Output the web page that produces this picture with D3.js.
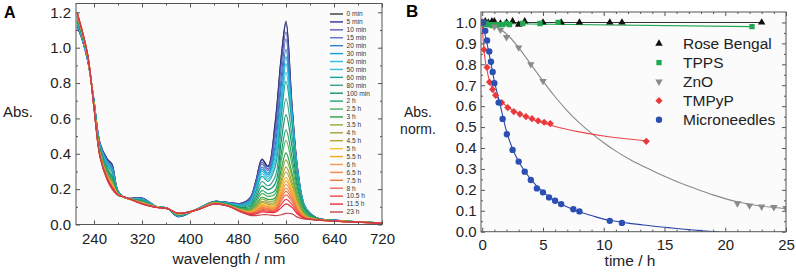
<!DOCTYPE html>
<html>
<head>
<meta charset="utf-8">
<script src="https://cdn.jsdelivr.net/npm/d3@7"></script>
<style>
  body { margin: 0; background: #fff; }
  svg { font-family: "Liberation Sans", Arial, sans-serif; }
  .axis text { font-size: 15px; fill: #222; }
  .axis line { stroke: #555; }
  .axis path { display: none; }
</style>
</head>
<body>
<div id="canvas"></div>
<script>
// ---------- DATA : panel A (UV-vis spectra) ----------
const wavelengths = [212, 220, 230, 240, 250, 262, 270, 280, 292, 320, 345, 362, 380, 410, 440,
  462, 485, 500, 510, 520, 530, 542, 552, 560, 570, 580, 592, 610, 650, 720];

const timeLabels = ["0 min", "5 min", "10 min", "15 min", "20 min", "30 min", "40 min", "50 min",
  "60 min", "80 min", "100 min", "2 h", "2.5 h", "3 h", "3.5 h", "4 h", "4.5 h", "5 h", "5.5 h",
  "6 h", "6.5 h", "7.5 h", "8 h", "10.5 h", "11.5 h", "23 h"];

// one row per time, one value per wavelength
const absorbance = [
  [1.12,1.05,0.92,0.70,0.46,0.37,0.34,0.190,0.150,0.150,0.100,0.093,0.045,0.085,0.130,0.125,0.120,0.150,0.250,0.370,0.330,0.580,0.95,1.15,0.68,0.300,0.100,0.040,0.022,0.008],
  [1.12,1.05,0.92,0.70,0.46,0.37,0.34,0.190,0.150,0.150,0.100,0.093,0.045,0.085,0.130,0.125,0.120,0.149,0.248,0.367,0.327,0.570,0.94,1.14,0.67,0.297,0.099,0.040,0.022,0.008],
  [1.12,1.05,0.92,0.70,0.46,0.36,0.33,0.189,0.150,0.148,0.100,0.093,0.046,0.085,0.130,0.124,0.117,0.145,0.239,0.353,0.315,0.526,0.90,1.09,0.65,0.286,0.097,0.040,0.022,0.008],
  [1.13,1.05,0.92,0.70,0.45,0.36,0.33,0.188,0.150,0.147,0.100,0.093,0.047,0.085,0.130,0.123,0.115,0.141,0.232,0.341,0.305,0.493,0.83,1.05,0.64,0.285,0.097,0.040,0.022,0.008],
  [1.13,1.06,0.92,0.69,0.45,0.35,0.32,0.186,0.150,0.145,0.100,0.093,0.048,0.085,0.130,0.122,0.113,0.136,0.221,0.324,0.290,0.446,0.78,0.99,0.62,0.283,0.097,0.040,0.022,0.008],
  [1.14,1.06,0.93,0.69,0.45,0.35,0.31,0.185,0.150,0.144,0.100,0.093,0.049,0.085,0.130,0.121,0.111,0.132,0.213,0.312,0.280,0.416,0.71,0.95,0.615,0.282,0.098,0.037,0.022,0.008],
  [1.14,1.06,0.93,0.69,0.44,0.34,0.31,0.185,0.150,0.142,0.100,0.093,0.049,0.085,0.127,0.121,0.109,0.129,0.206,0.301,0.270,0.389,0.68,0.91,0.61,0.280,0.098,0.037,0.022,0.008],
  [1.14,1.06,0.93,0.69,0.44,0.34,0.30,0.183,0.150,0.141,0.100,0.093,0.050,0.085,0.127,0.120,0.107,0.124,0.197,0.287,0.257,0.356,0.65,0.86,0.60,0.276,0.097,0.037,0.022,0.008],
  [1.15,1.07,0.93,0.69,0.44,0.33,0.30,0.182,0.150,0.139,0.100,0.093,0.051,0.085,0.127,0.119,0.104,0.120,0.188,0.272,0.244,0.326,0.61,0.81,0.57,0.270,0.095,0.037,0.022,0.008],
  [1.15,1.07,0.93,0.68,0.43,0.32,0.28,0.180,0.150,0.136,0.100,0.093,0.053,0.083,0.127,0.117,0.100,0.111,0.170,0.243,0.219,0.272,0.54,0.71,0.50,0.240,0.090,0.037,0.020,0.008],
  [1.16,1.07,0.93,0.68,0.42,0.31,0.27,0.178,0.150,0.133,0.098,0.093,0.055,0.083,0.127,0.115,0.096,0.103,0.153,0.218,0.197,0.231,0.47,0.62,0.44,0.210,0.083,0.037,0.020,0.008],
  [1.17,1.08,0.94,0.68,0.42,0.30,0.26,0.176,0.152,0.130,0.098,0.093,0.056,0.083,0.122,0.114,0.092,0.095,0.137,0.192,0.174,0.194,0.40,0.535,0.38,0.190,0.075,0.031,0.020,0.008],
  [1.17,1.08,0.94,0.68,0.41,0.30,0.25,0.174,0.152,0.128,0.098,0.093,0.057,0.083,0.122,0.113,0.089,0.089,0.126,0.174,0.159,0.173,0.36,0.475,0.34,0.170,0.069,0.031,0.020,0.008],
  [1.18,1.08,0.94,0.67,0.41,0.29,0.24,0.173,0.152,0.126,0.098,0.090,0.059,0.083,0.122,0.111,0.086,0.083,0.113,0.154,0.142,0.150,0.31,0.405,0.29,0.146,0.060,0.031,0.020,0.008],
  [1.18,1.09,0.94,0.67,0.40,0.28,0.24,0.172,0.152,0.125,0.098,0.090,0.059,0.083,0.122,0.111,0.084,0.079,0.106,0.143,0.132,0.137,0.28,0.366,0.27,0.134,0.054,0.031,0.020,0.008],
  [1.18,1.09,0.94,0.67,0.40,0.28,0.23,0.171,0.152,0.123,0.098,0.090,0.060,0.083,0.122,0.110,0.082,0.076,0.098,0.131,0.122,0.126,0.25,0.326,0.24,0.122,0.049,0.031,0.020,0.008],
  [1.18,1.09,0.94,0.67,0.40,0.28,0.23,0.170,0.152,0.123,0.098,0.090,0.061,0.083,0.122,0.109,0.081,0.073,0.093,0.123,0.114,0.116,0.23,0.297,0.22,0.113,0.045,0.031,0.020,0.008],
  [1.19,1.09,0.94,0.67,0.40,0.27,0.23,0.170,0.152,0.122,0.098,0.090,0.061,0.081,0.118,0.109,0.079,0.070,0.087,0.114,0.106,0.108,0.21,0.266,0.20,0.103,0.043,0.027,0.018,0.008],
  [1.19,1.09,0.94,0.67,0.39,0.27,0.22,0.169,0.152,0.121,0.098,0.090,0.062,0.081,0.118,0.108,0.078,0.069,0.084,0.108,0.101,0.102,0.19,0.247,0.186,0.097,0.042,0.027,0.018,0.008],
  [1.19,1.09,0.95,0.67,0.39,0.27,0.22,0.169,0.154,0.120,0.098,0.090,0.062,0.081,0.118,0.108,0.078,0.067,0.080,0.103,0.097,0.097,0.177,0.227,0.172,0.091,0.041,0.027,0.018,0.008],
  [1.19,1.09,0.95,0.67,0.39,0.27,0.22,0.168,0.154,0.120,0.096,0.090,0.062,0.081,0.118,0.108,0.077,0.065,0.076,0.097,0.091,0.091,0.161,0.206,0.158,0.085,0.039,0.027,0.018,0.008],
  [1.19,1.09,0.95,0.66,0.39,0.26,0.22,0.168,0.154,0.119,0.096,0.090,0.063,0.081,0.118,0.107,0.076,0.063,0.073,0.091,0.086,0.086,0.147,0.187,0.145,0.079,0.038,0.027,0.018,0.008],
  [1.19,1.10,0.95,0.66,0.39,0.26,0.21,0.167,0.154,0.118,0.096,0.090,0.063,0.081,0.118,0.107,0.075,0.061,0.069,0.085,0.081,0.081,0.132,0.167,0.131,0.072,0.037,0.027,0.018,0.008],
  [1.19,1.10,0.95,0.66,0.39,0.26,0.21,0.167,0.154,0.118,0.096,0.090,0.064,0.081,0.116,0.106,0.074,0.059,0.065,0.078,0.075,0.075,0.114,0.142,0.114,0.065,0.035,0.027,0.018,0.008],
  [1.20,1.10,0.95,0.66,0.38,0.26,0.21,0.166,0.154,0.117,0.096,0.090,0.064,0.081,0.116,0.106,0.073,0.057,0.060,0.071,0.069,0.069,0.095,0.117,0.097,0.057,0.034,0.027,0.018,0.008],
  [1.20,1.10,0.95,0.66,0.38,0.25,0.20,0.165,0.155,0.115,0.096,0.090,0.065,0.081,0.115,0.105,0.070,0.052,0.050,0.055,0.055,0.050,0.055,0.063,0.060,0.040,0.030,0.025,0.018,0.008]
];

const lineColors = ["#3a3a3a", "#2e3192", "#5b5fb5", "#5a74c4", "#2f7fc1", "#13a0d8", "#26bde2",
  "#3cc0d6", "#13a39a", "#3aa38f", "#11926a", "#1fa56b", "#4cb05a", "#2e9e44", "#8fae3e", "#a5a23b",
  "#b5a431", "#f2c12e", "#f7a51d", "#f59a55", "#f48a45", "#f47b34", "#f26a5a", "#f04848", "#ee2a35",
  "#c2444f"];

// ---------- DATA : panel B (kinetics) ----------
const rbTime = [0, 0.25, 0.5, 0.8, 1.0, 1.5, 2.0, 2.5, 3.0, 3.5, 5.0, 6.5, 8.0, 10.5, 11.5, 23];
const rbAbs  = [1.0, 1.005, 1.0, 1.005, 1.005, 0.995, 1.0, 1.005, 0.99, 1.005, 1.0, 1.0, 1.0, 1.0, 1.0, 1.0];
const rbFitTime = [0, 23];
const rbFitAbs  = [1.0, 1.0];

const tppsTime = [0, 0.08, 0.17, 0.25, 0.33, 0.5, 0.67, 0.83, 1.0, 1.17, 1.33, 1.67, 2.0, 2.25, 3.33, 4.75, 6.25, 22.2];
const tppsAbs  = [1.0, 1.0, 0.995, 0.99, 0.995, 0.99, 0.99, 0.985, 0.99, 0.99, 0.99, 0.99, 0.995, 0.99, 0.995, 0.995, 1.0, 0.98];
const tppsFitTime = [0, 22.2];
const tppsFitAbs  = [0.995, 0.98];

const znoTime = [0, 1, 1.5, 2, 3, 4, 5, 21, 22, 23, 24, 25];
const znoAbs  = [1.0, 0.98, 0.965, 0.93, 0.88, 0.80, 0.72, 0.135, 0.125, 0.12, 0.117, 0.112];
const znoFitTime = [0, 1, 2, 3, 4, 5, 6, 7, 8, 9, 10, 11, 12, 13, 14, 15, 16, 17, 18, 19, 20, 21, 22, 23, 24, 25];
const znoFitAbs  = [1.0, 0.985, 0.945, 0.88, 0.80, 0.72, 0.645, 0.578, 0.52, 0.47, 0.425, 0.385, 0.35,
  0.32, 0.292, 0.265, 0.24, 0.217, 0.196, 0.176, 0.158, 0.143, 0.131, 0.122, 0.116, 0.11];

const tmpypTime = [0, 0.15, 0.4, 0.6, 0.85, 1.1, 1.6, 2.1, 2.6, 3.1, 3.6, 4.1, 4.6, 5.1, 5.6, 13.5];
const tmpypAbs  = [1.0, 0.87, 0.785, 0.715, 0.68, 0.652, 0.617, 0.593, 0.574, 0.562, 0.55, 0.54, 0.53, 0.523, 0.517, 0.432];
const tmpypFitTime = [0, 0.1, 0.2, 0.4, 0.6, 0.8, 1.0, 1.5, 2, 3, 4, 5, 6, 8, 10, 12, 13.5];
const tmpypFitAbs  = [1.0, 0.9, 0.84, 0.77, 0.72, 0.685, 0.66, 0.625, 0.6, 0.565, 0.54, 0.52, 0.503, 0.477, 0.457, 0.443, 0.435];

const mnTime = [0.08, 0.25, 0.4, 0.58, 0.72, 0.86, 1.0, 1.35, 1.68, 2.03, 2.5, 3.0, 3.5, 4.0, 4.5, 5.0, 5.5, 6.0, 6.5, 7.5, 8.0, 10.5, 11.5];
const mnAbs  = [1.0, 0.96, 0.914, 0.861, 0.812, 0.763, 0.71, 0.617, 0.539, 0.466, 0.391, 0.335, 0.287, 0.247, 0.207, 0.188, 0.164, 0.148, 0.132, 0.107, 0.097, 0.052, 0.042];
const mnFitTime = [0, 0.5, 1, 1.5, 2, 2.5, 3, 4, 5, 6, 7, 8, 9, 10, 11, 12, 13, 14, 15, 16, 17, 18, 19, 19.5];
const mnFitAbs  = [1.0, 0.87, 0.72, 0.6, 0.48, 0.395, 0.335, 0.25, 0.19, 0.148, 0.118, 0.095, 0.077, 0.06,
  0.05, 0.041, 0.034, 0.027, 0.021, 0.015, 0.01, 0.005, 0.001, 0.0];

const seriesNames = ["Rose Bengal", "TPPS", "ZnO", "TMPyP", "Microneedles"];

// ---------- CANVAS ----------
const width = 796, height = 276;
const svg = d3.select("#canvas").append("svg").attr("width", width).attr("height", height);

function addAxes(plot, x, y, w, h, t) {
  const b = plot.append("g").attr("class", "axis").attr("transform", `translate(0,${h})`);
  b.call(d3.axisBottom(x).tickValues(t.xMajor).tickFormat(d3.format("d")).tickSize(-4).tickPadding(t.xPad));
  b.append("g").call(d3.axisBottom(x).tickValues(t.xMinor).tickFormat("").tickSize(-2));

  const tp = plot.append("g").attr("class", "axis");
  tp.call(d3.axisTop(x).tickValues(t.xMajor).tickFormat("").tickSize(-4));
  tp.append("g").call(d3.axisTop(x).tickValues(t.xMinor).tickFormat("").tickSize(-2));

  const l = plot.append("g").attr("class", "axis");
  l.call(d3.axisLeft(y).tickValues(t.yMajor).tickFormat(d3.format(".1f")).tickSize(-4).tickPadding(t.yPad));
  l.append("g").call(d3.axisLeft(y).tickValues(t.yMinor).tickFormat("").tickSize(-2));

  const r = plot.append("g").attr("class", "axis").attr("transform", `translate(${w},0)`);
  r.call(d3.axisRight(y).tickValues(t.yMajor).tickFormat("").tickSize(-4));
  r.append("g").call(d3.axisRight(y).tickValues(t.yMinor).tickFormat("").tickSize(-2));

  plot.append("rect").attr("width", w).attr("height", h)
    .attr("fill", "none").attr("stroke", "#555").attr("stroke-width", 1);
}

// ---------- PANEL A ----------
const aM = { left: 76, top: 3.5 }, aW = 306, aH = 221;
const plotA = svg.append("g").attr("transform", `translate(${aM.left},${aM.top})`);
const xA = d3.scaleLinear().domain([210, 720]).range([0, aW]);
const yA = d3.scaleLinear().domain([0, 1.25]).range([aH, 0]);

plotA.append("rect").attr("width", aW).attr("height", aH).attr("fill", "#fbfbfb");
plotA.append("clipPath").attr("id", "clipA").append("rect").attr("width", aW).attr("height", aH);

const specLine = d3.line()
  .x((d, i) => xA(wavelengths[i]))
  .y(d => yA(d))
  .curve(d3.curveCatmullRom.alpha(0.5));

plotA.append("g").attr("clip-path", "url(#clipA)")
  .selectAll("path").data(absorbance).join("path")
  .attr("d", specLine)
  .attr("fill", "none")
  .attr("stroke", (d, i) => lineColors[i])
  .attr("stroke-width", 1.2);

addAxes(plotA, xA, yA, aW, aH, {
  xMajor: [240, 320, 400, 480, 560, 640, 720], xMinor: [280, 360, 440, 520, 600, 680],
  yMajor: [0, 0.2, 0.4, 0.6, 0.8, 1.0, 1.2], yMinor: [0.1, 0.3, 0.5, 0.7, 0.9, 1.1],
  xPad: 8.4, yPad: 5
});

// legend A
const legA = plotA.append("g");
const legRow = d3.scaleLinear().domain([0, timeLabels.length - 1]).range([14 - aM.top, 212 - aM.top]);
legA.selectAll("line").data(timeLabels).join("line")
  .attr("x1", 330 - aM.left).attr("x2", 343 - aM.left)
  .attr("y1", (d, i) => legRow(i)).attr("y2", (d, i) => legRow(i))
  .attr("stroke", (d, i) => lineColors[i]).attr("stroke-width", 1.4);
legA.selectAll("text").data(timeLabels).join("text")
  .attr("x", 346.5 - aM.left).attr("y", (d, i) => legRow(i) + 2.3)
  .attr("font-size", 6.6).attr("fill", "#333").text(d => d);

svg.append("text").attr("x", 4).attr("y", 18).attr("font-size", 16).attr("font-weight", "bold").text("A");
svg.append("text").attr("x", 18).attr("y", 117).attr("text-anchor", "middle").attr("font-size", 15).attr("fill", "#222").text("Abs.");
svg.append("text").attr("x", 229).attr("y", 264).attr("text-anchor", "middle").attr("font-size", 15.5).attr("fill", "#222").text("wavelength / nm");

// ---------- PANEL B ----------
const bM = { left: 481, top: 12 }, bW = 305, bH = 219.7;
const plotB = svg.append("g").attr("transform", `translate(${bM.left},${bM.top})`);
const xB = d3.scaleLinear().domain([-0.1, 25]).range([0, bW]);
const yB = d3.scaleLinear().domain([0, 1.05]).range([bH, 0]);

plotB.append("rect").attr("width", bW).attr("height", bH).attr("fill", "#fbfbfb");
plotB.append("clipPath").attr("id", "clipB").append("rect").attr("width", bW).attr("height", bH);

const kinLine = d3.line().x(d => xB(d[0])).y(d => yB(d[1])).curve(d3.curveMonotoneX);

const series = [
  { t: rbTime, v: rbAbs, ft: rbFitTime, fv: rbFitAbs, color: "#111", line: "#333", shape: d3.symbolTriangle, size: 24, rot: 0 },
  { t: tppsTime, v: tppsAbs, ft: tppsFitTime, fv: tppsFitAbs, color: "#1fa84f", line: "#1fa84f", shape: d3.symbolSquare, size: 28, rot: 0 },
  { t: znoTime, v: znoAbs, ft: znoFitTime, fv: znoFitAbs, color: "#8a8a8a", line: "#8a8a8a", shape: d3.symbolTriangle, size: 24, rot: 180 },
  { t: tmpypTime, v: tmpypAbs, ft: tmpypFitTime, fv: tmpypFitAbs, color: "#e8393c", line: "#e8474a", shape: d3.symbolSquare, size: 26, rot: 45 },
  { t: mnTime, v: mnAbs, ft: mnFitTime, fv: mnFitAbs, color: "#2c4fb3", line: "#2a47a8", shape: d3.symbolCircle, size: 32, rot: 0 }
];

const dataB = plotB.append("g").attr("clip-path", "url(#clipB)");
series.forEach(s => {
  dataB.append("path").attr("d", kinLine(d3.zip(s.ft, s.fv)))
    .attr("fill", "none").attr("stroke", s.line).attr("stroke-width", 1.1);
});
series.forEach(s => {
  dataB.append("g").selectAll("path").data(d3.zip(s.t, s.v)).join("path")
    .attr("d", d3.symbol(s.shape, s.size))
    .attr("transform", d => `translate(${xB(d[0])},${yB(d[1])}) rotate(${s.rot})`)
    .attr("fill", s.color);
});

addAxes(plotB, xB, yB, bW, bH, {
  xMajor: [0, 5, 10, 15, 20, 25],
  xMinor: d3.range(1, 25).filter(d => d % 5 !== 0),
  yMajor: d3.range(0, 11).map(d => d / 10),
  yMinor: d3.range(0, 10).map(d => d / 10 + 0.05),
  xPad: 7.2, yPad: 4.3
});

// legend B
const legB = svg.append("g");
const legRowB = d3.scaleLinear().domain([0, 4]).range([43.5, 119.8]);
series.forEach((s, i) => {
  legB.append("path").attr("d", d3.symbol(s.shape, s.size))
    .attr("transform", `translate(659,${legRowB(i)}) rotate(${s.rot})`).attr("fill", s.color);
  legB.append("text").attr("x", 683).attr("y", legRowB(i) + 5.5)
    .attr("font-size", 15.5).attr("fill", "#222").text(seriesNames[i]);
});

svg.append("text").attr("x", 406).attr("y", 17).attr("font-size", 17).attr("font-weight", "bold").text("B");
svg.append("text").attr("x", 418).attr("y", 117).attr("text-anchor", "middle").attr("font-size", 14).attr("fill", "#222").text("Abs.");
svg.append("text").attr("x", 418).attr("y", 134).attr("text-anchor", "middle").attr("font-size", 14).attr("fill", "#222").text("norm.");
svg.append("text").attr("x", 630).attr("y", 266).attr("text-anchor", "middle").attr("font-size", 15.5).attr("fill", "#222").text("time / h");
</script>
</body>
</html>
